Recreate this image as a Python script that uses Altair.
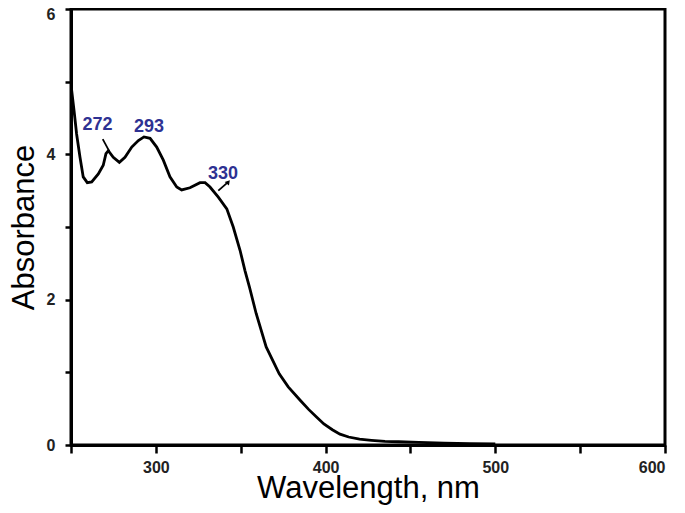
import altair as alt
import pandas as pd

wavelength = [250.4, 251.8, 253.3, 255.3, 257.2, 259.6, 262.2, 266.1, 269.0, 270.6,
              272.0, 274.9, 278.5, 281.8, 285.8, 289.7, 293.0, 296.6, 300.5, 304.4,
              308.3, 312.3, 315.2, 320.1, 326.0, 329.0, 331.9, 336.8, 341.8, 345.6,
              349.6, 352.5, 355.2, 359.1, 365.0, 372.7, 378.0, 384.9, 390.0, 394.5,
              399.0, 404.0, 408.5, 413.6, 420.0, 427.0, 435.0, 443.0, 455.0, 470.0,
              485.0, 500.0]
absorbance = [4.88, 4.60, 4.28, 3.96, 3.69, 3.61, 3.62, 3.73, 3.85, 4.01,
              4.05, 3.96, 3.89, 3.96, 4.10, 4.19, 4.24, 4.22, 4.10, 3.92,
              3.69, 3.55, 3.51, 3.54, 3.61, 3.61, 3.55, 3.41, 3.25, 3.00,
              2.68, 2.40, 2.17, 1.81, 1.35, 0.98, 0.80, 0.62, 0.49, 0.39,
              0.29, 0.21, 0.15, 0.11, 0.08, 0.065, 0.05, 0.045, 0.035, 0.025,
              0.02, 0.015]

peak_labels = ["272", "293", "330"]
peak_label_x = [265.6, 295.9, 339.6]
peak_label_y = [4.40, 4.37, 3.73]

pointer_x = [268.7, 336.8]
pointer_y = [4.21, 3.50]
pointer_x2 = [272.6, 342.2]
pointer_y2 = [4.04, 3.61]

arrow_x = [342.7]
arrow_y = [3.62]

curve = pd.DataFrame({"w": wavelength, "a": absorbance})
labels = pd.DataFrame({"t": peak_labels, "w": peak_label_x, "a": peak_label_y})
pointers = pd.DataFrame({"w": pointer_x, "a": pointer_y, "w2": pointer_x2, "a2": pointer_y2})
arrows = pd.DataFrame({"w": arrow_x, "a": arrow_y})

xscale = alt.Scale(domain=[250, 600], nice=False, zero=False)
yscale = alt.Scale(domain=[0, 6], nice=False)

xaxis = alt.Axis(
    title="Wavelength, nm",
    values=[250, 300, 350, 400, 450, 500, 550, 600],
    labelExpr="datum.value % 100 == 0 ? datum.label : ''",
    tickSize=8, labelPadding=6,
    titleX=297, titleY=52, titleBaseline="alphabetic", titleAlign="center",
)
yaxis = alt.Axis(
    title="Absorbance",
    values=[0, 1, 2, 3, 4, 5, 6],
    format="d",
    labelExpr="datum.value % 2 == 0 ? datum.label : ''",
    labelOffset={"condition": {"test": "datum.value == 6", "value": 5}, "value": 0},
    tickSize=6, labelPadding=10,
    titleX=-38, titleY=218, titleBaseline="alphabetic", titleAlign="center",
    titleAngle=270,
)

line = alt.Chart(curve).mark_line(color="black", strokeWidth=2.8).encode(
    x=alt.X("w:Q", scale=xscale, axis=xaxis),
    y=alt.Y("a:Q", scale=yscale, axis=yaxis),
)

rules = alt.Chart(pointers).mark_rule(color="black", strokeWidth=1.8).encode(
    x="w:Q", y="a:Q", x2="w2:Q", y2="a2:Q"
)

heads = alt.Chart(arrows).mark_point(
    shape="triangle-up", filled=True, size=30, angle=40, color="black", opacity=1
).encode(x="w:Q", y="a:Q")

texts = alt.Chart(labels).mark_text(
    color="#2e3192", fontSize=18, fontWeight="bold", font="Liberation Sans"
).encode(x="w:Q", y="a:Q", text="t:N")

chart = alt.layer(line, rules, heads, texts).properties(
    width=594, height=436,
    autosize=alt.AutoSizeParams(type="none"),
    padding={"left": 63, "top": 1, "right": 12, "bottom": 60},
).configure_view(
    stroke="black", strokeWidth=3
).configure_axis(
    grid=False,
    domainColor="black", domainWidth=3,
    tickColor="black", tickWidth=2.5,
    labelFont="Liberation Sans", labelFontSize=16, labelFontWeight="bold",
    labelColor="#222222",
    titleFont="Liberation Sans", titleFontSize=31, titleFontWeight="normal",
    titleColor="black",
)

chart.save("out.html", embed_options={"renderer": "svg", "actions": False})
